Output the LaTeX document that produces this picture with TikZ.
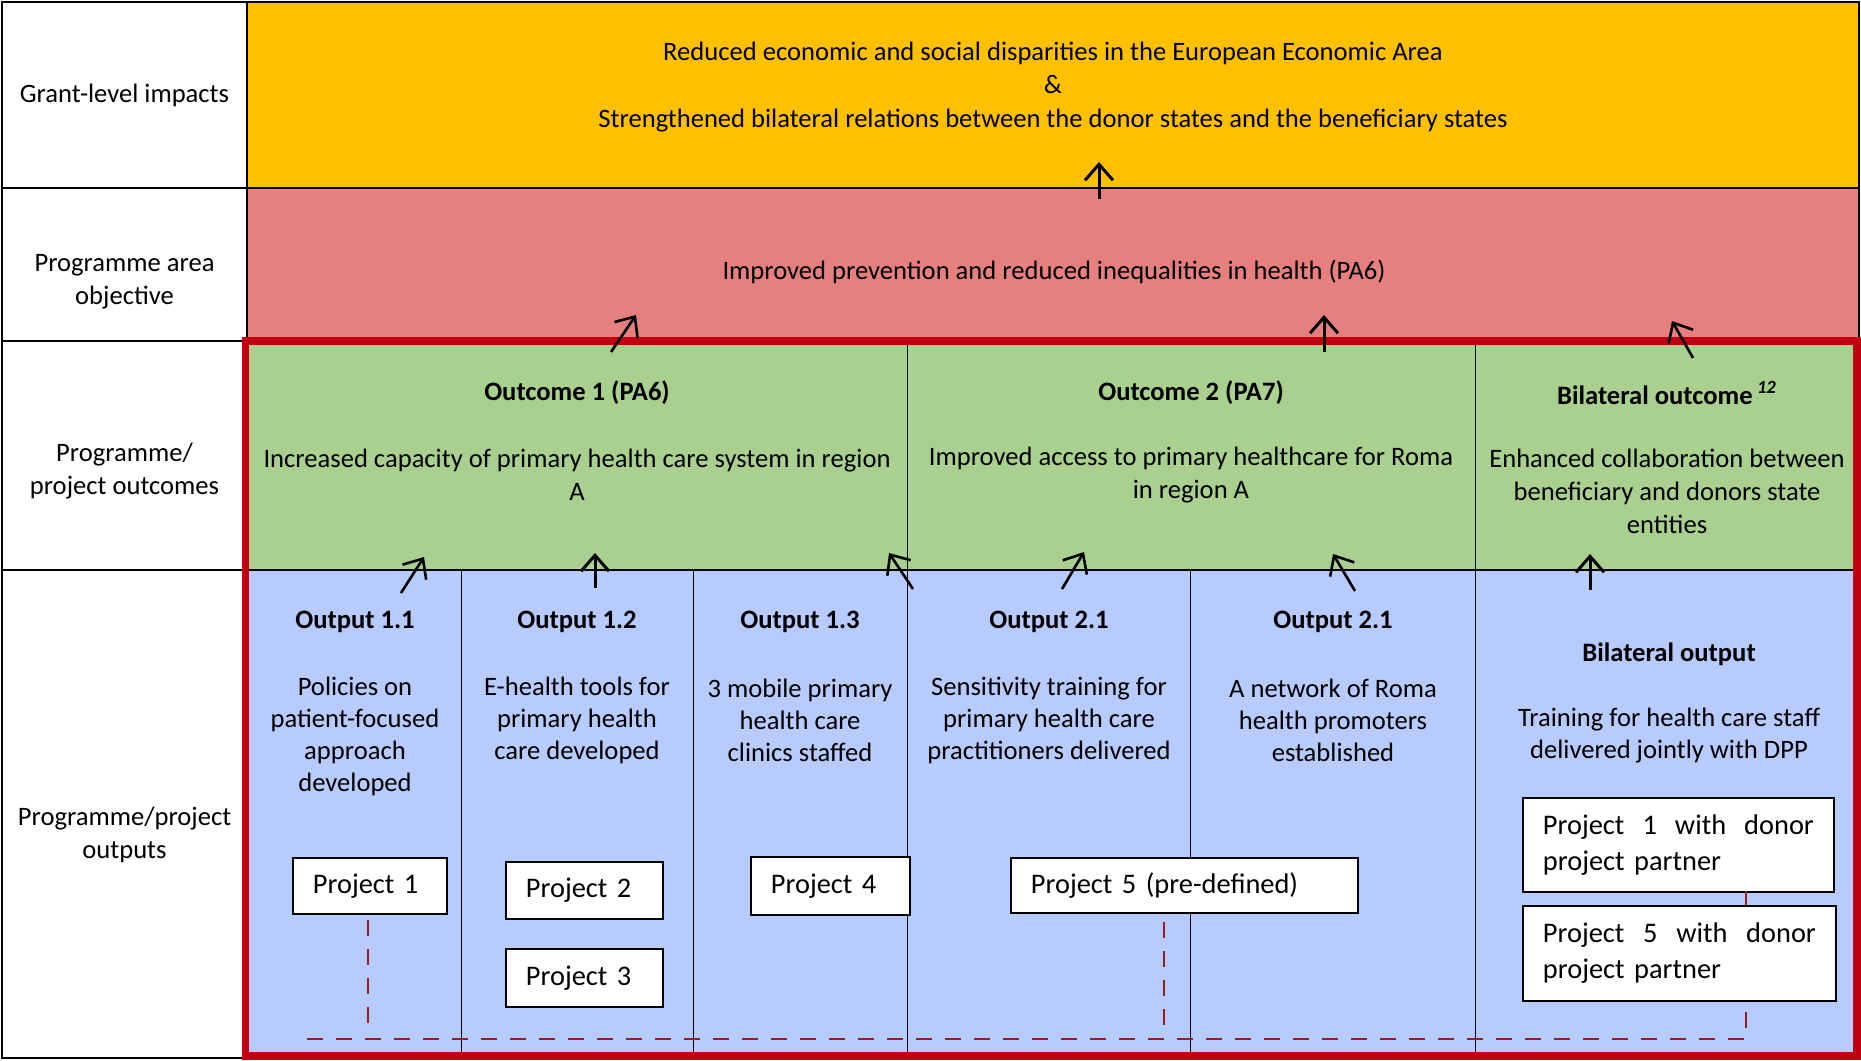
\documentclass[tikz,border=0pt]{standalone}
\usepackage{fontspec}
\setmainfont{Carlito}
\usetikzlibrary{arrows.meta}
\definecolor{cellyellow}{HTML}{FFC000}
\definecolor{cellred}{HTML}{E6807F}
\definecolor{cellgreen}{HTML}{A9D08E}
\definecolor{cellblue}{HTML}{B7CBFE}
\definecolor{framered}{HTML}{C00010}
\definecolor{dashred}{HTML}{961E1E}
\begin{document}
\begin{tikzpicture}[x=0.5pt,y=-0.5pt,
  txt/.style={font=\fontsize{13.3}{16.5}\selectfont, align=center, inner sep=0pt},
  outtxt/.style={font=\fontsize{13.3}{16}\selectfont, align=center, inner sep=0pt},
  ttl/.style={font=\fontsize{13.3}{16.5}\selectfont\bfseries, align=center, inner sep=0pt},
  projbox/.style={draw=black, line width=0.9pt, fill=white, anchor=north west, align=left,
    inner xsep=10pt, inner ysep=0pt, font=\fontsize{14.2}{18}\selectfont},
  grid/.style={line width=1pt, black},
  thin/.style={line width=0.5pt, black},
  arr/.style={line width=1.5pt, black, -{Straight Barb[length=8pt,width=14pt]}},
  dashline/.style={line width=1.1pt, dashred, dash pattern=on 8pt off 6.5pt}]
\useasboundingbox (0,0) rectangle (1861,1060);
\fill[white] (0,0) rectangle (1861,1060);
% row fills
\fill[cellyellow] (247,2) rectangle (1859,188);
\fill[cellred] (247,188) rectangle (1859,341);
\fill[cellgreen] (247,341) rectangle (1859,570);
\fill[cellblue] (247,570) rectangle (1859,1058);
% grid
\draw[grid] (2,2) rectangle (1859,1058);
\draw[grid] (247,2) -- (247,1058);
\draw[grid] (2,188) -- (1859,188);
\draw[grid] (2,341) -- (1859,341);
\draw[grid] (2,570) -- (1859,570);
% column dividers
\draw[thin] (907,341) -- (907,570);
\draw[thin] (1475,341) -- (1475,570);
\foreach \cx in {461,693,907,1190.5,1475} \draw[thin] (\cx,570) -- (\cx,1056);
% left labels
\node[txt] (lab1) at (124.5,95) {Grant-level impacts};
\node[txt] (lab2) at (124.5,282) {Programme area\\objective};
\node[txt] (lab3) at (124.5,471) {Programme/\\project outcomes};
\node[txt] (lab4) at (124.5,835) {Programme/project\\outputs};
% impact
\node[txt, font=\fontsize{13.3}{16.75}\selectfont] (impact) at (1053,87) {Reduced economic and social disparities in the European Economic Area\\\&\\Strengthened bilateral relations between the donor states and the beneficiary states};
% objective
\node[txt] (obj) at (1054,272) {Improved prevention and reduced inequalities in health (PA6)};
% outcomes
\node[ttl] (oc1t) at (577,393) {Outcome 1 (PA6)};
\node[txt] (oc1) at (577,475) {Increased capacity of primary health care system in region\\A};
\node[ttl] (oc2t) at (1191,393) {Outcome 2 (PA7)};
\node[txt] (oc2) at (1191,475) {Improved access to primary healthcare for Roma\\in region A};
\node[ttl] (oc3t) at (1667,393) {Bilateral outcome\,\textsuperscript{\textit{12}}};
\node[txt] (oc3) at (1667,491) {Enhanced collaboration between\\beneficiary and donors state\\entities};
% outputs
\node[ttl] (op1t) at (355,622) {Output 1.1};
\node[outtxt] (op1) at (355,736) {Policies on\\patient-focused\\approach\\developed};
\node[ttl] (op2t) at (577,622) {Output 1.2};
\node[outtxt] (op2) at (577,720) {E-health tools for\\primary health\\care developed};
\node[ttl] (op3t) at (800,622) {Output 1.3};
\node[outtxt] (op3) at (800,720) {3 mobile primary\\health care\\clinics staffed};
\node[ttl] (op4t) at (1049,622) {Output 2.1};
\node[outtxt] (op4) at (1049,720) {Sensitivity training for\\primary health care\\practitioners delivered};
\node[ttl] (op5t) at (1333,622) {Output 2.1};
\node[outtxt] (op5) at (1333,720) {A network of Roma\\health promoters\\established};
\node[ttl] (op6t) at (1669,654) {Bilateral output};
\node[outtxt] (op6) at (1669,736) {Training for health care staff\\delivered jointly with DPP};
% project boxes
\node[projbox, text width=57pt, minimum height=28pt] (p1) at (292,857) {Project 1};
\node[projbox, text width=58.5pt, minimum height=28.5pt] (p2) at (505,861) {Project 2};
\node[projbox, text width=58.5pt, minimum height=29pt] (p3) at (505,948) {Project 3};
\node[projbox, text width=59.5pt, minimum height=29pt] (p4) at (750,856) {Project 4};
\node[projbox, text width=153.5pt, minimum height=27.5pt] (p5) at (1010,857) {Project 5 (pre-defined)};
\node[projbox, text width=135.5pt, minimum height=47pt] (b1) at (1522,797) {Project\hfill 1\hfill with\hfill donor\\project partner};
\node[projbox, text width=136.5pt, minimum height=47.5pt] (b2) at (1522,905) {Project\hfill 5\hfill with\hfill donor\\project partner};
% dashed links
\coordinate (d1a) at (368,920);
\coordinate (d1b) at (368,1028);
\coordinate (hl) at (307,1039);
\coordinate (hr) at (1746,1039);
\coordinate (d5a) at (1163.6,922);
\coordinate (d5b) at (1163.6,1030);
\coordinate (db1) at (1746,891);
\coordinate (db2) at (1746,905);
\coordinate (db3) at (1746,1000);
\draw[dashline] (d1a) -- (d1b);
\draw[dashline] (d5a) -- (d5b);
\draw[dashline] (hl) -- (hr) -- (db3);
\draw[dashline] (db1) -- (db2);
% red frame
\draw[framered, line width=3.6pt] (245.5,341) rectangle (1857,1056);
% arrows
\coordinate (y0s) at (1099,199); \coordinate (y0t) at (1099,162);
\coordinate (r1s) at (611,352); \coordinate (r1t) at (636,315);
\coordinate (r2s) at (1324,352); \coordinate (r2t) at (1324,315);
\coordinate (r3s) at (1693,358); \coordinate (r3t) at (1672,321);
\coordinate (g1s) at (401,593); \coordinate (g1t) at (424,557);
\coordinate (g2s) at (595,588); \coordinate (g2t) at (595,553);
\coordinate (g3s) at (913,589); \coordinate (g3t) at (889,553);
\coordinate (g4s) at (1062,589); \coordinate (g4t) at (1084,552);
\coordinate (g5s) at (1355,591); \coordinate (g5t) at (1333,554);
\coordinate (g6s) at (1590,590); \coordinate (g6t) at (1590,554);
\draw[arr] (y0s) -- (y0t);
\draw[arr, line width=1.3pt] (r1s) -- (r1t);
\draw[arr] (r2s) -- (r2t);
\draw[arr, line width=1.3pt] (r3s) -- (r3t);
\draw[arr, line width=1.3pt] (g1s) -- (g1t);
\draw[arr] (g2s) -- (g2t);
\draw[arr, line width=1.3pt] (g3s) -- (g3t);
\draw[arr, line width=1.3pt] (g4s) -- (g4t);
\draw[arr, line width=1.3pt] (g5s) -- (g5t);
\draw[arr] (g6s) -- (g6t);
\end{tikzpicture}
\end{document}
